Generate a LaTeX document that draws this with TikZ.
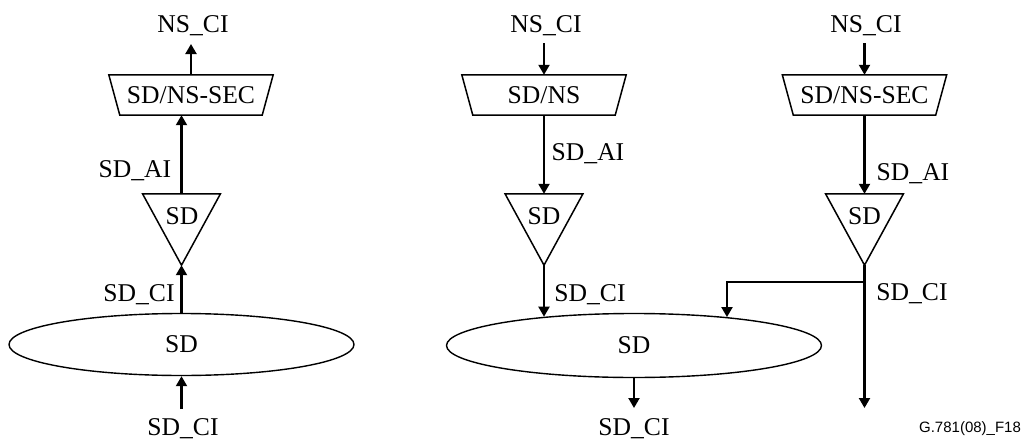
\documentclass[tikz,border=0pt]{standalone}
\usepackage{fontspec}
\setmainfont{Liberation Serif}
\newfontfamily\sansf{Liberation Sans}
\usetikzlibrary{arrows.meta,shapes.geometric}
\tikzset{
  conn/.style={line width=2.1pt, -{Triangle[length=10pt,width=11pt]}},
  outline/.style={line width=1.5pt, line join=miter},
  txt/.style={inner sep=0pt, font=\fontsize{25.6}{30}\selectfont},
  lbl/.style={txt, anchor=base},
  box/.style={inner sep=0pt, minimum width=164pt, minimum height=40pt},
  tri/.style={inner sep=0pt, minimum width=77.5pt, minimum height=71pt},
  ell/.style={ellipse, draw, line width=1.4pt, txt},
}
\begin{document}
\begin{tikzpicture}[x=1pt,y=-1pt]
\useasboundingbox (0,0) rectangle (1025,439);
% ---------- left column ----------
\node[lbl] (n1) at (193,32) {NS\_CI};
\node[box,txt] (p1) at (191,95) {SD/NS-SEC};
\draw[outline] (p1.north west) -- (p1.north east) -- ([xshift=-11pt]p1.south east) -- ([xshift=11pt]p1.south west) -- cycle;
\coordinate (n1a) at (191,44);
\draw[conn] (p1.north) -- (n1a);
\node[tri] (t1) at (181.5,229.5) {};
\draw[outline] (t1.north west) -- (t1.north east) -- (t1.south) -- cycle;
\node[txt] (t1l) at (182,216.5) {SD};
\draw[conn] (t1.north) -- (t1.north |- p1.south);
\node[lbl] (a1) at (135,177) {SD\_AI};
\node[ell, minimum width=345pt, minimum height=62pt] (e1) at (181.5,344.5) {SD};
\draw[conn] (e1.north) -- (t1.south);
\node[lbl] (c1) at (139,301) {SD\_CI};
\coordinate (b1) at (181.5,409);
\draw[conn] (b1) -- (e1.south);
\node[lbl] (c1b) at (183,435) {SD\_CI};
% ---------- middle column ----------
\node[lbl] (n2) at (546,32) {NS\_CI};
\node[box,txt] (p2) at (544,95) {SD/NS};
\draw[outline] (p2.north west) -- (p2.north east) -- ([xshift=-11pt]p2.south east) -- ([xshift=11pt]p2.south west) -- cycle;
\coordinate (n2a) at (544,43);
\draw[conn] (n2a) -- (p2.north);
\node[tri] (t2) at (544,229.5) {};
\draw[outline] (t2.north west) -- (t2.north east) -- (t2.south) -- cycle;
\node[txt] (t2l) at (544,216.5) {SD};
\draw[conn] (p2.south) -- (t2.north);
\node[lbl] (a2) at (588,160) {SD\_AI};
\node[ell, minimum width=375pt, minimum height=64pt] (e2) at (634,345.5) {SD};
\draw[conn] (t2.south) -- (t2.south |- e2.162.68);
\node[lbl] (c2) at (590,301) {SD\_CI};
\coordinate (b2) at (634,408);
\draw[conn] (e2.south) -- (b2);
\node[lbl] (c2b) at (634,435) {SD\_CI};
% ---------- right column ----------
\node[lbl] (n3) at (866,32) {NS\_CI};
\node[box,txt] (p3) at (864.5,95) {SD/NS-SEC};
\draw[outline] (p3.north west) -- (p3.north east) -- ([xshift=-11pt]p3.south east) -- ([xshift=11pt]p3.south west) -- cycle;
\coordinate (n3a) at (864.5,43);
\draw[conn] (n3a) -- (p3.north);
\node[tri] (t3) at (864.5,229.5) {};
\draw[outline] (t3.north west) -- (t3.north east) -- (t3.south) -- cycle;
\node[txt] (t3l) at (864.5,216.5) {SD};
\draw[conn] (p3.south) -- (t3.north);
\node[lbl] (a3) at (913,180) {SD\_AI};
\coordinate (b3) at (864.5,408);
\draw[conn] (t3.south) -- (b3);
\coordinate (j3) at (864.5,282);
\draw[conn] (j3) -| (e2.17.56);
\node[lbl] (c3) at (912,300) {SD\_CI};
\node[font=\sansf\fontsize{15}{18}\selectfont, anchor=base, inner sep=0pt] (fig) at (970,432) {G.781(08)\_F18};
\end{tikzpicture}
\end{document}
